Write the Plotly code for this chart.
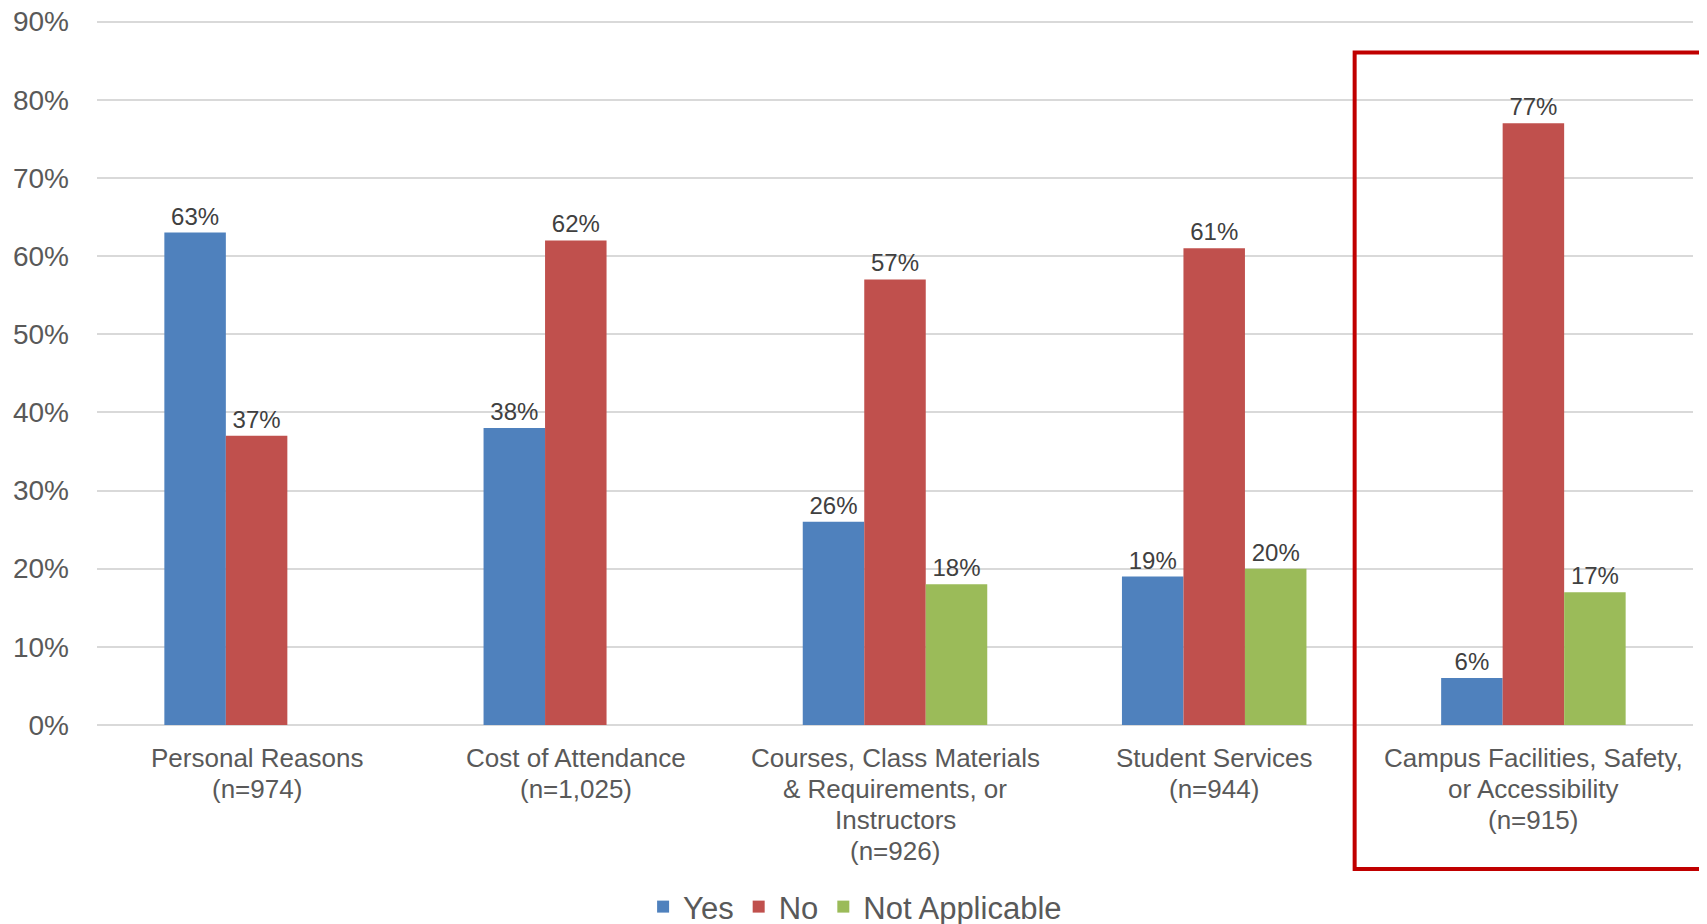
import plotly.graph_objects as go

categories = [
    "Personal Reasons<br>(n=974)",
    "Cost of Attendance<br>(n=1,025)",
    "Courses, Class Materials<br>& Requirements, or<br>Instructors<br>(n=926)",
    "Student Services<br>(n=944)",
    "Campus Facilities, Safety,<br>or Accessibility<br>(n=915)",
]
yes_vals = [63, 38, 26, 19, 6]
no_vals = [37, 62, 57, 61, 77]
na_vals = [None, None, 18, 20, 17]
y_ticks = [0, 10, 20, 30, 40, 50, 60, 70, 80, 90]

series = [("Yes", yes_vals, "#4F81BD"), ("No", no_vals, "#C0504D"), ("Not Applicable", na_vals, "#9BBB59")]
FONT = "Liberation Sans, Arial"

fig = go.Figure()
for name, vals, color in series:
    fig.add_trace(go.Bar(
        x=categories, y=vals, name=name, marker_color=color, marker_line_width=0,
        text=[f"{v}%" if v is not None else "" for v in vals],
        textposition="outside", constraintext="none", cliponaxis=False,
        textfont=dict(family=FONT, size=24, color="#404040"),
    ))

# category labels, one annotation per line for tighter line spacing
annotations = []
for cat in categories:
    for i, line in enumerate(cat.split("<br>")):
        annotations.append(dict(
            x=cat, xref="x", y=0, yref="paper", yanchor="middle", xanchor="center",
            yshift=-33 - 31 * i, text=line, showarrow=False,
            font=dict(family=FONT, size=26, color="#595959"),
        ))

fig.update_layout(
    width=1707, height=924,
    margin=dict(l=89, r=22, t=12, b=207),
    paper_bgcolor="white", plot_bgcolor="white",
    barmode="group", bargap=0.422, bargroupgap=0,
    font=dict(family=FONT, color="#595959"),
    legend=dict(orientation="h", x=0.475, xanchor="center", yref="container", y=0.0271, yanchor="middle",
                font=dict(size=31, color="#595959"), traceorder="normal"),
    xaxis=dict(showticklabels=False, showgrid=False, showline=False, ticks="", automargin=False),
    yaxis=dict(range=[0, 90.2], tickvals=y_ticks, ticktext=[f"{t}%" for t in y_ticks],
               tickfont=dict(size=28, color="#595959"), showgrid=True, gridcolor="#D9D9D9",
               gridwidth=1.5, zeroline=True, zerolinecolor="#D9D9D9", zerolinewidth=1.5,
               showline=False, ticklabelstandoff=27, automargin=False, ticklabeloverflow="allow"),
    annotations=annotations,
    shapes=[dict(type="rect", xref="paper", yref="paper", x0=0.788, x1=1.0075, y0=-0.2044, y1=0.9538,
                 line=dict(color="#C00000", width=4), fillcolor="rgba(0,0,0,0)")],
)

fig.write_html("out.html")
